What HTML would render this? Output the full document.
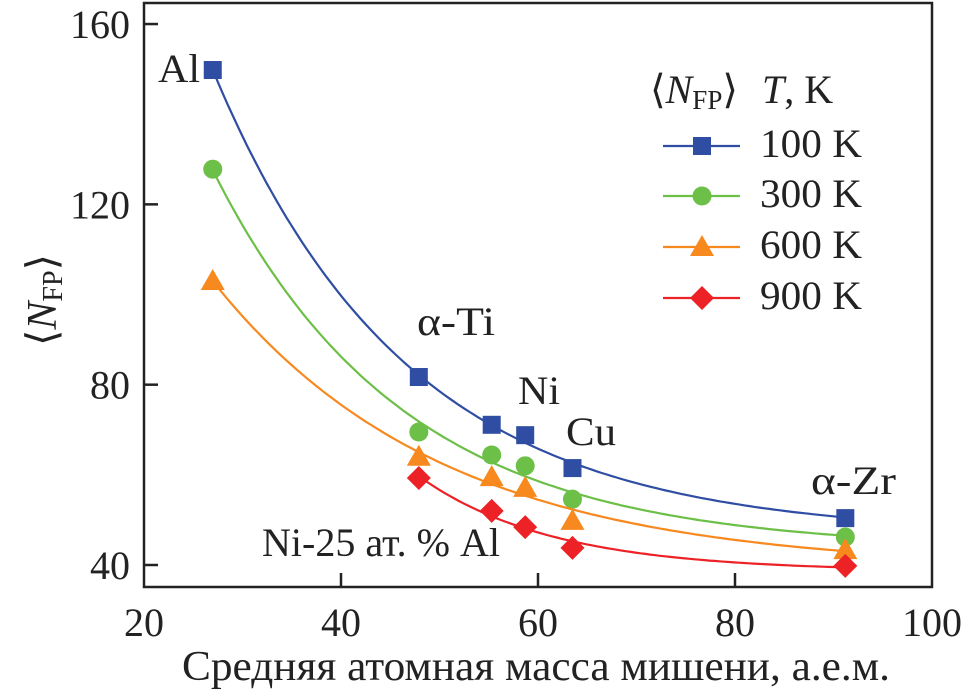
<!DOCTYPE html>
<html><head><meta charset="utf-8"><style>
body{margin:0;background:#fff}
svg{display:block;font-family:"Liberation Serif",serif}
</style></head><body>
<svg width="962" height="697" id="c">
<rect x="144" y="3" width="788" height="584" fill="none" stroke="#222" stroke-width="2.5"/>
<g id="axes"></g><g id="series"></g>
<g font-size="40" fill="#222">
<text x="158" y="82" textLength="42" lengthAdjust="spacingAndGlyphs">Al</text>
<text x="417" y="335" textLength="78" lengthAdjust="spacingAndGlyphs">α-Ti</text>
<text x="518" y="404" textLength="42" lengthAdjust="spacingAndGlyphs">Ni</text>
<text x="566" y="445" textLength="50" lengthAdjust="spacingAndGlyphs">Cu</text>
<text x="811" y="494" textLength="85" lengthAdjust="spacingAndGlyphs">α-Zr</text>
<text x="262" y="556" textLength="238" lengthAdjust="spacingAndGlyphs">Ni-25 ат. % Al</text>
<text x="182" y="680" textLength="708" lengthAdjust="spacingAndGlyphs" font-size="42">Средняя атомная масса мишени, а.е.м.</text>
<text transform="translate(56,300) rotate(-90)" text-anchor="middle" font-size="42">⟨<tspan font-style="italic">N</tspan><tspan font-size="28" dy="6">FP</tspan><tspan dy="-6">⟩</tspan></text>
<text x="650" y="103" font-size="40">⟨<tspan font-style="italic">N</tspan><tspan font-size="27" dy="6">FP</tspan><tspan dy="-6">⟩</tspan><tspan font-style="italic" dx="24">T</tspan>, K</text>
</g>
<g id="legend"></g>
</svg>
<script>
const xCats=[26.98,47.9,55.3,58.7,63.5,91.2];
const blue=[149.8,81.7,71.1,68.8,61.5,50.4];
const green=[127.8,69.5,64.4,62,54.6,46.2];
const orange=[103,64,59.5,57.1,49.8,43.3];
const red=[null,59.3,52,48.4,43.8,39.8];
const xTicks=[20,40,60,80,100];
const yTicks=[40,80,120,160];
const legendLabels=["100 K","300 K","600 K","900 K"];
const NS="http://www.w3.org/2000/svg";
const X=v=>144+(v-20)*9.85, Y=v=>565-(v-40)*4.508;
function mk(t,a,p){const e=document.createElementNS(NS,t);for(const k in a)e.setAttribute(k,a[k]);p.appendChild(e);return e;}
const ax=document.getElementById('axes');
xTicks.forEach(t=>{
 if(t>20&&t<100){const l=mk('line',{x1:X(t),x2:X(t),y1:587,y2:573,stroke:'#222','stroke-width':2.5},ax);
 
 }
 const tx=mk('text',{x:X(t),y:636,'text-anchor':'middle','font-size':40,fill:'#222'},ax);tx.textContent=t;
 
 
});
yTicks.forEach(t=>{
 const l=mk('line',{x1:144,x2:158,y1:Y(t),y2:Y(t),stroke:'#222','stroke-width':2.5},ax);
 
 
 const tx=mk('text',{x:130,y:Y(t)+14,'text-anchor':'end','font-size':40,fill:'#222'},ax);tx.textContent=t;
 
 
});
const ser=[[blue,'#2f4ea3','square'],[green,'#6cbf47','circle'],[orange,'#f7891f','triangle'],[red,'#ec2227','diamond']];
function marker(sh,cx,cy,col,p){
 let e;
 if(sh=='square')e=mk('rect',{x:cx-9,y:cy-9,width:18,height:18,fill:col},p);
 else if(sh=='circle')e=mk('circle',{cx,cy,r:9.5,fill:col},p);
 else if(sh=='triangle')e=mk('polygon',{points:`${cx},${cy-12} ${cx+12},${cy+9} ${cx-12},${cy+9}`,fill:col},p);
 else e=mk('polygon',{points:`${cx},${cy-12} ${cx+12},${cy} ${cx},${cy+12} ${cx-12},${cy}`,fill:col},p);
 return e;
}
// least-squares fit y = a + b*exp(-k*(x-20))
function fit(xs,ys){
 let best=null;
 for(let k=0.005;k<0.3;k+=0.001){
  const f=xs.map(x=>Math.exp(-k*(x-20)));const n=xs.length;
  let sf=0,sy=0,sff=0,sfy=0;for(let i=0;i<n;i++){sf+=f[i];sy+=ys[i];sff+=f[i]*f[i];sfy+=f[i]*ys[i];}
  const b=(n*sfy-sf*sy)/(n*sff-sf*sf),a=(sy-b*sf)/n;
  let e=0;for(let i=0;i<n;i++){const r=a+b*f[i]-ys[i];e+=r*r;}
  if(!best||e<best.e)best={a,b,k,e};
 }
 return best;
}
const sg=document.getElementById('series');
ser.forEach(([vals,col,sh],si)=>{
 const xs=[],ys=[];vals.forEach((v,i)=>{if(v!=null){xs.push(xCats[i]);ys.push(v);}});
 const F=fit(xs,ys);
 let d='';
 for(let x=xs[0];x<=xs[xs.length-1]+0.01;x+=0.5){
  const y=F.a+F.b*Math.exp(-F.k*(x-20));
  d+=(d?' L':'M')+X(x).toFixed(1)+','+Y(y).toFixed(1);
 }
 const pa=mk('path',{d,fill:'none',stroke:col,'stroke-width':2.2},sg);
 
 
 xs.forEach((x,i)=>{const m=marker(sh,X(x),Y(ys[i]),col,sg);
  
  });
});
const lg=document.getElementById('legend');
const ly=[146,196,247,298];
ser.forEach(([v,col,sh],i)=>{
 const g=mk('g',{},lg);
 
 
 mk('line',{x1:663,x2:740,y1:ly[i],y2:ly[i],stroke:col,'stroke-width':2.2},g);
 marker(sh,702,ly[i],col,g);
 const t=mk('text',{x:760,y:ly[i]+11,'font-size':40,fill:'#222',textLength:102,lengthAdjust:'spacingAndGlyphs'},g);t.textContent=legendLabels[i];
});
</script>
</body></html>
